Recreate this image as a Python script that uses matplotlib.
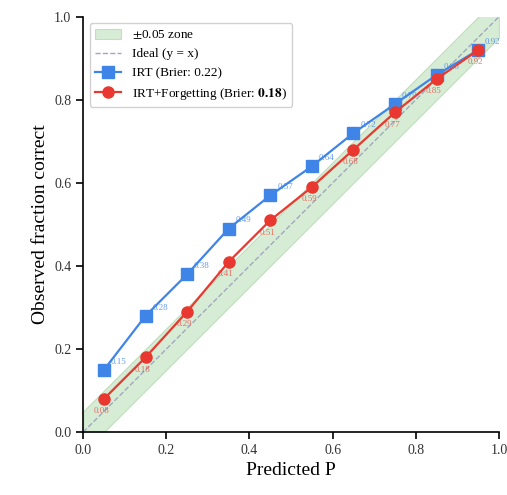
import numpy as np
import matplotlib
matplotlib.use('Agg')
import matplotlib.pyplot as plt

plt.rcParams['font.family'] = ['Liberation Serif', 'DejaVu Serif']
plt.rcParams['mathtext.fontset'] = 'stix'

bins = [0.05, 0.15, 0.25, 0.35, 0.45, 0.55, 0.65, 0.75, 0.85, 0.95]
irt = [0.15, 0.28, 0.38, 0.49, 0.57, 0.64, 0.72, 0.79, 0.86, 0.92]
irt_forget = [0.08, 0.18, 0.29, 0.41, 0.51, 0.59, 0.68, 0.77, 0.85, 0.92]

blue = '#3f85e8'
red = '#e8382f'

fig = plt.figure(figsize=(5.07, 4.95), dpi=100)
ax = fig.add_axes([0.164, 0.127, 0.82, 0.839])

diag = np.array([0.0, 1.0])
ax.fill_between(diag, diag - 0.05, diag + 0.05, color='#a8d5a2', alpha=0.45,
                edgecolor='#8cc584', linewidth=0.8, label='$\\pm$0.05 zone')
ax.plot(diag, diag, '--', color='#a0a8c0', linewidth=1.0, label='Ideal (y = x)')
ax.plot(bins, irt, '-s', color=blue, markersize=8, linewidth=1.6,
        label='IRT (Brier: 0.22)')
ax.plot(bins, irt_forget, '-o', color=red, markersize=8, linewidth=1.6,
        label='IRT+Forgetting (Brier: $\\mathbf{0.18}$)')

for x, y in zip(bins, irt):
    ax.annotate(f'{y:.2f}', (x, y), textcoords='offset points', xytext=(5, 3),
                ha='left', va='bottom', fontsize=6.5, color=blue, alpha=0.8)
for x, y in zip(bins, irt_forget):
    ax.annotate(f'{y:.2f}', (x, y), textcoords='offset points', xytext=(-2, -6),
                ha='center', va='top', fontsize=6.5, color=red, alpha=0.7)

ax.set_xlim(0, 1)
ax.set_ylim(0, 1)
ax.set_xticks([0, 0.2, 0.4, 0.6, 0.8, 1.0])
ax.set_yticks([0, 0.2, 0.4, 0.6, 0.8, 1.0])
ax.tick_params(labelsize=10, length=5, width=1.2, direction='out',
               labelcolor='#333333')
for s in ['top', 'right']:
    ax.spines[s].set_visible(False)
for s in ['left', 'bottom']:
    ax.spines[s].set_linewidth(1.2)

ax.set_xlabel('Predicted P', fontsize=14)
ax.set_ylabel('Observed fraction correct', fontsize=14)
ax.legend(loc='upper left', fontsize=9.5, framealpha=0.9, edgecolor='#cccccc')

fig.savefig('out.png', dpi=100)
